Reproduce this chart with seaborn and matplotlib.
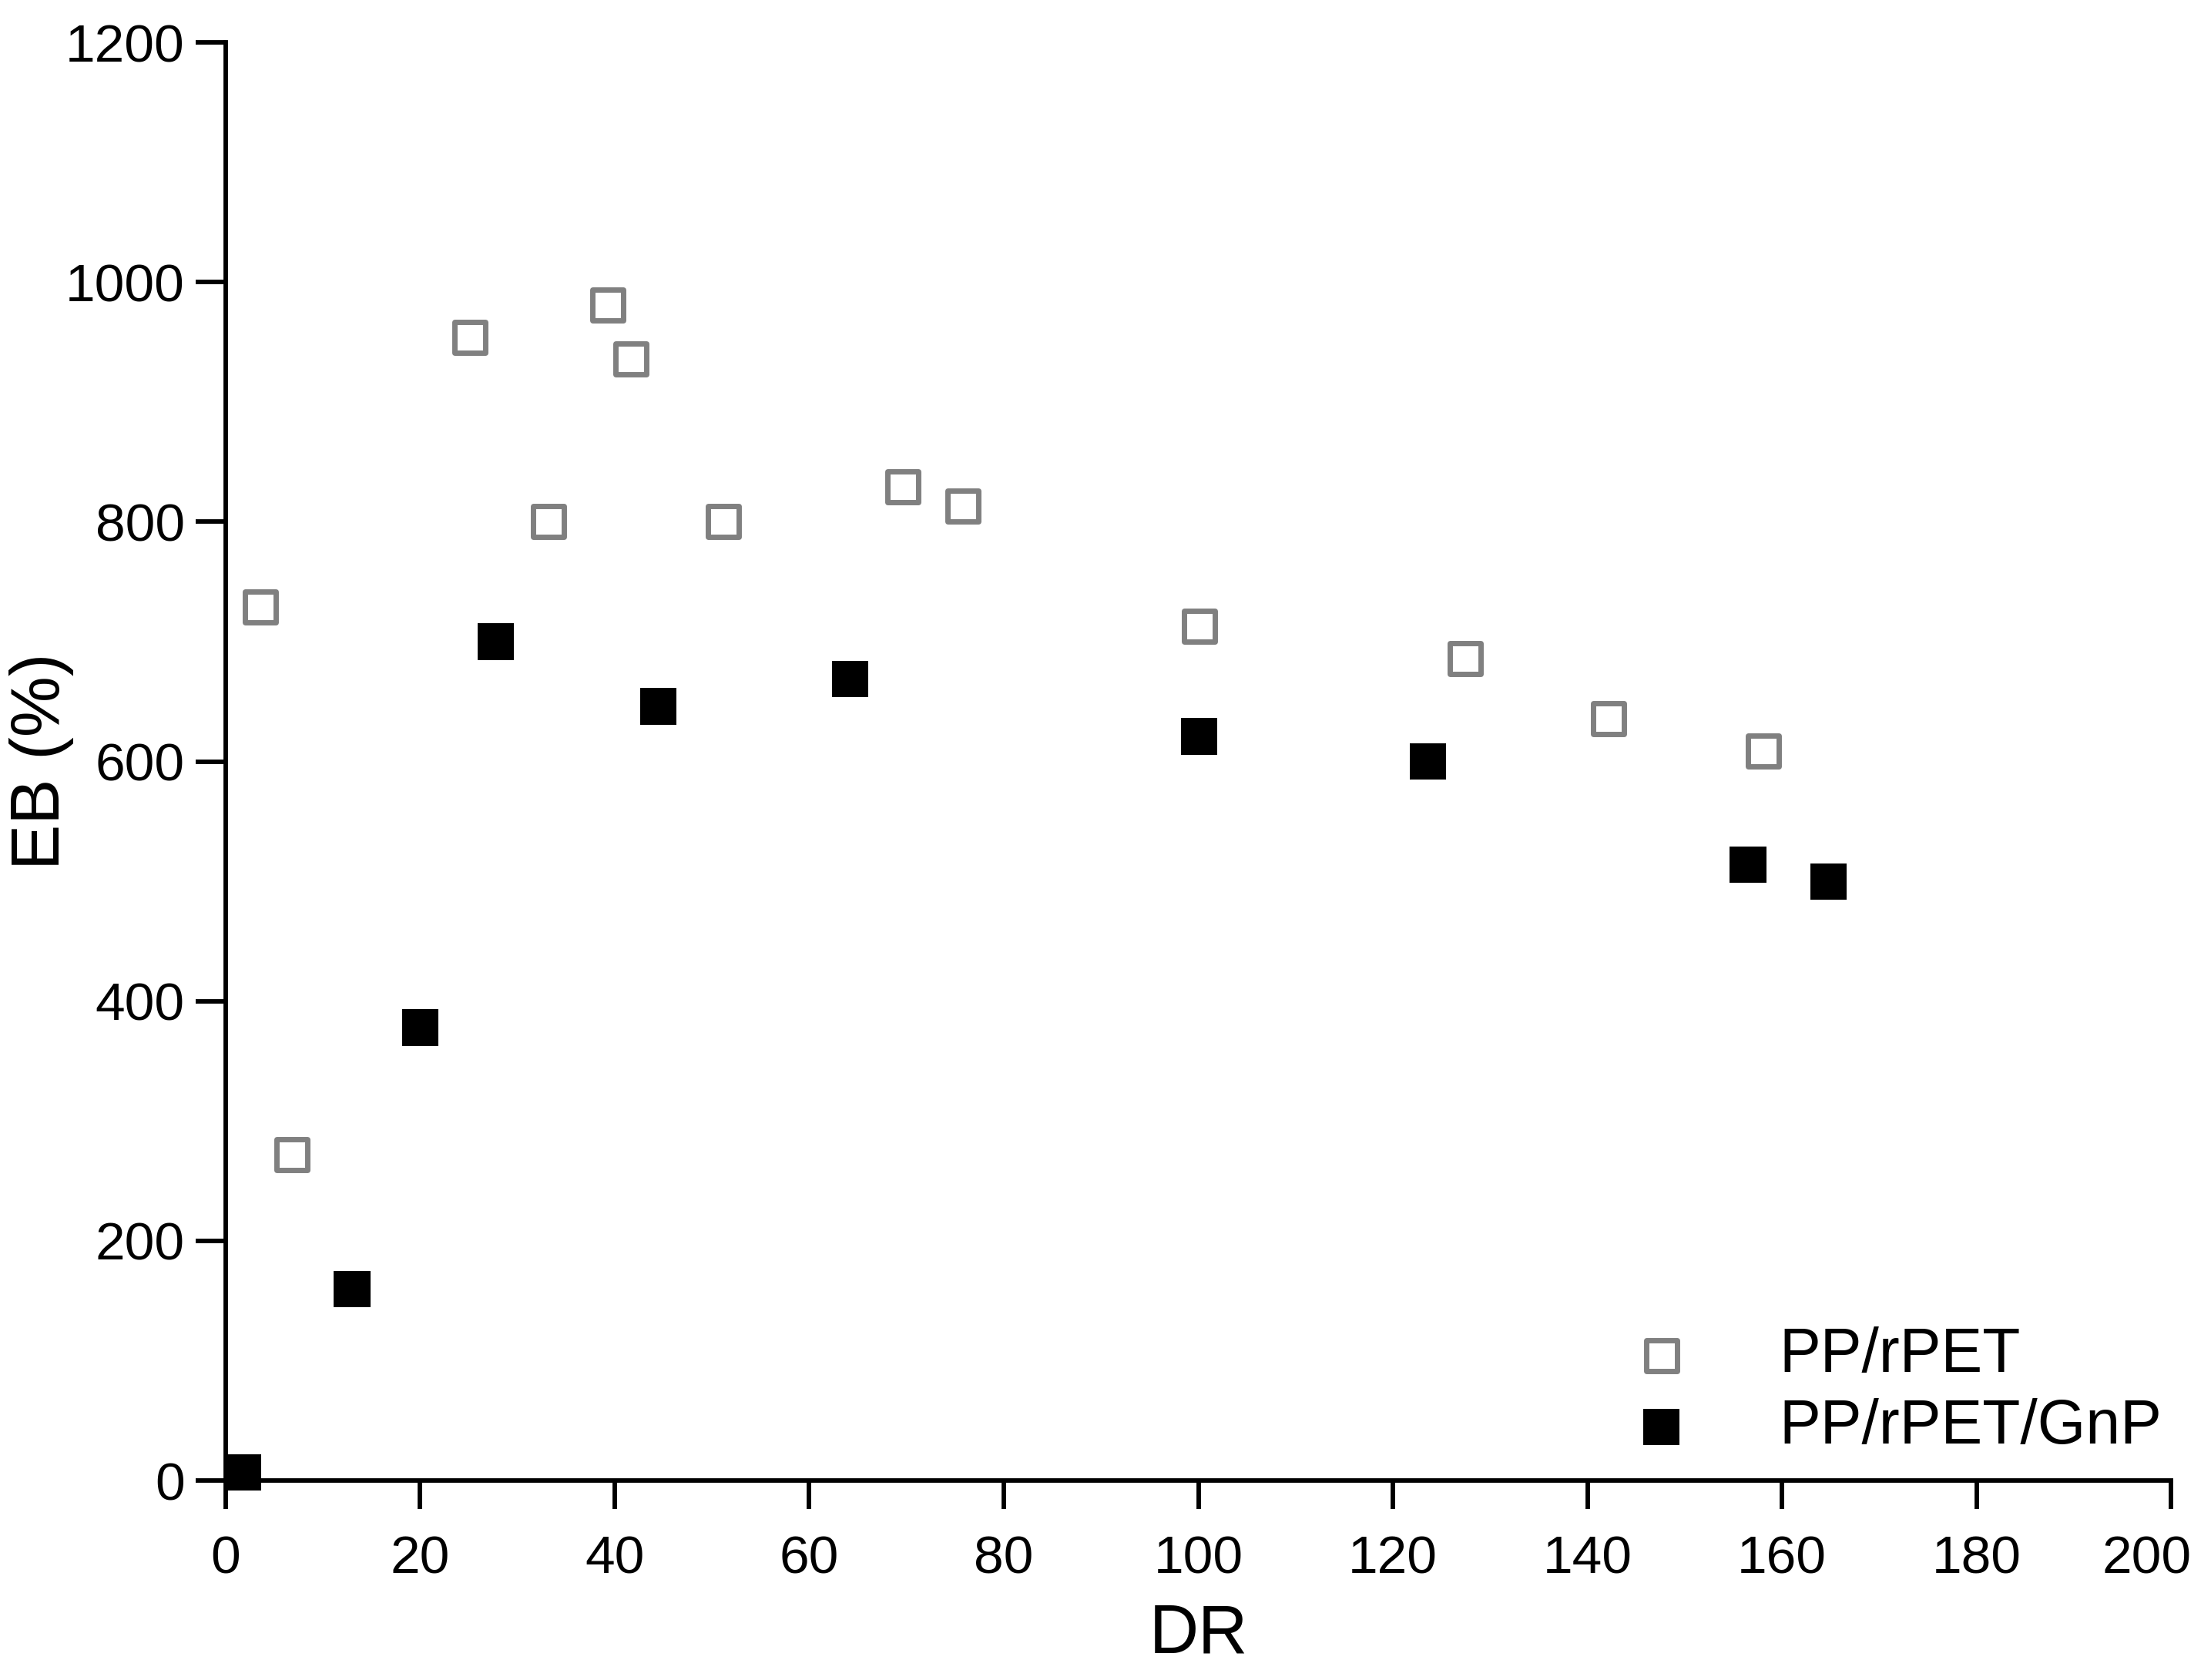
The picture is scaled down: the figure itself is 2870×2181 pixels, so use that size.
"""
EB (%) vs DR scatter: PP/rPET vs PP/rPET/GnP
"""
import pandas as pd
import matplotlib.pyplot as plt
import matplotlib.transforms as mtransforms
import seaborn as sns

# values
dr_pet = [3.6, 6.8, 25.1, 33.2, 39.3, 41.7, 51.2, 69.6, 75.8, 100.1, 127.4, 142.2, 158.1]
eb_pet = [729, 272, 954, 800, 981, 936, 800, 829, 813, 713, 686, 636, 609]

dr_gnp = [1.8, 13.0, 20.0, 27.8, 44.5, 64.2, 100.1, 123.6, 156.5, 164.8]
eb_gnp = [7, 160, 378, 700, 646, 669, 621, 600, 514, 500]

x_ticks = [0, 20, 40, 60, 80, 100, 120, 140, 160, 180, 200]
y_ticks = [0, 200, 400, 600, 800, 1000, 1200]

df_pet = pd.DataFrame({"DR": dr_pet, "EB": eb_pet})
df_gnp = pd.DataFrame({"DR": dr_gnp, "EB": eb_gnp})

sns.set_style("ticks", {
    "axes.edgecolor": "black",
    "text.color": "black",
    "axes.labelcolor": "black",
    "xtick.color": "black",
    "ytick.color": "black",
})
plt.rcParams["font.family"] = ["Liberation Sans", "DejaVu Sans"]

fig = plt.figure(figsize=(14.35, 10.905), dpi=200)
ax = fig.add_axes([0.102, 0.1187, 0.880, 0.856])

sns.scatterplot(
    data=df_pet, x="DR", y="EB", ax=ax,
    marker="s", s=207, color="#808080",
    facecolor="white", edgecolor="#808080", linewidth=2.5,
    label="PP/rPET", zorder=2, clip_on=False,
)
sns.scatterplot(
    data=df_gnp, x="DR", y="EB", ax=ax,
    marker="s", s=289, color="black", edgecolor="none", linewidth=0,
    label="PP/rPET/GnP", zorder=2, clip_on=False,
)

ax.set_xlim(0, 200)
ax.set_ylim(0, 1200)
ax.set_xticks(x_ticks)
ax.set_yticks(y_ticks)
sns.despine(ax=ax)
for side in ["left", "bottom"]:
    ax.spines[side].set_linewidth(2.1)
    ax.spines[side].set_zorder(3)

ax.tick_params(axis="x", direction="out", length=13.4, width=2.1, pad=12, labelsize=25)
ax.tick_params(axis="y", direction="out", length=14, width=2.1, pad=5, labelsize=25)

# last x label is nudged left so it stays inside the picture
last = ax.get_xticklabels()[-1]
last.set_transform(last.get_transform() + mtransforms.ScaledTranslation(-0.16, 0, fig.dpi_scale_trans))

ax.set_xlabel("DR", fontsize=32, labelpad=8.5)
ax.set_ylabel("EB (%)", fontsize=32)
ax.yaxis.set_label_coords(-0.078, 0.5)

leg = ax.legend(
    loc="lower right", bbox_to_anchor=(1.0145, -0.009),
    frameon=False, fontsize=29, handletextpad=0.9,
    labelspacing=0.2, borderaxespad=0.2,
)

plt.savefig("out.png", dpi=200)
